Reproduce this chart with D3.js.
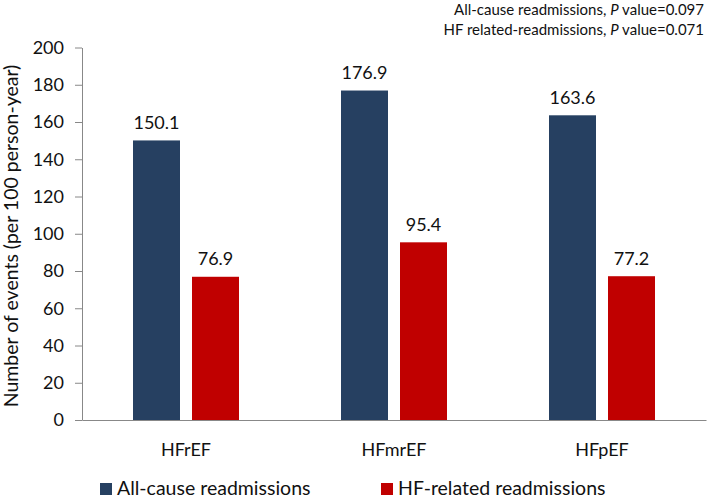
<!DOCTYPE html>
<html><head><meta charset="utf-8">
<script src="https://cdn.jsdelivr.net/npm/d3@7"></script>
<style>
html,body{margin:0;padding:0;background:#fff;}
svg{display:block;font-family:Lato,"Open Sans",sans-serif;}
</style></head>
<body><svg id="c" width="709" height="499"></svg>
<script>
const categories = ["HFrEF","HFmrEF","HFpEF"];
const seriesNames = ["All-cause readmissions","HF-related readmissions"];
const allCause = [150.1,176.9,163.6];
const hfRelated = [76.9,95.4,77.2];
const yTicks = [0,20,40,60,80,100,120,140,160,180,200];
const notes = [["All-cause readmissions, ","P"," value=0.097"],["HF related-readmissions, ","P"," value=0.071"]];
const colors = ["#264061","#C00000"];

const svg = d3.select("#c");
const x0 = d3.scaleBand().domain(categories).range([82,706]).padding(0);
const x1 = d3.scaleBand().domain(seriesNames).range([51,157]).paddingInner(0.2034).paddingOuter(0);
const y = d3.scaleLinear().domain([0,200]).range([420,47.5]);

const series = [allCause, hfRelated];
const data = [];
categories.forEach((c,i)=>series.forEach((s,j)=>data.push({c, s:seriesNames[j], v:s[i], j})));

// y axis
const ya = svg.append("g").attr("transform","translate(82,0)")
  .call(d3.axisLeft(y).tickValues(yTicks).tickSize(7).tickSizeOuter(0).tickPadding(11));
ya.select(".domain").attr("stroke","#888");
ya.selectAll(".tick line").attr("stroke","#888");
ya.selectAll(".tick text").attr("font-size","18px").attr("fill","#111").attr("font-family","Lato");

// x axis
const xa = svg.append("g").attr("transform","translate(0,420)")
  .call(d3.axisBottom(x0).tickSize(0).tickSizeOuter(0).tickPadding(23));
xa.select(".domain").attr("stroke","#888");
xa.selectAll(".tick text").attr("font-size","18px").attr("fill","#111").attr("font-family","Lato");

// bars
svg.append("g").selectAll("rect").data(data).join("rect")
  .attr("x",d=>x0(d.c)+x1(d.s)).attr("width",x1.bandwidth())
  .attr("y",d=>y(d.v)).attr("height",d=>y(0)-y(d.v))
  .attr("fill",d=>colors[d.j]);

// value labels
svg.append("g").selectAll("text").data(data).join("text")
  .attr("x",d=>x0(d.c)+x1(d.s)+x1.bandwidth()/2).attr("y",d=>y(d.v)-11.5)
  .attr("text-anchor","middle").attr("font-size","18px").attr("fill","#111")
  .text(d=>d.v.toFixed(1));

// y title
svg.append("text").attr("transform","translate(18,236) rotate(-90)")
  .attr("text-anchor","middle").attr("font-size","19.5px").attr("fill","#111")
  .text("Number of events (per 100 person-year)");

// legend
const lx = [100,381];
seriesNames.forEach((n,j)=>{
  svg.append("rect").attr("x",lx[j]).attr("y",483).attr("width",12).attr("height",12).attr("fill",colors[j]);
  svg.append("text").attr("x",lx[j]+17).attr("y",495).attr("font-size","19.5px").attr("fill","#111").text(n);
});

// notes
notes.forEach((parts,i)=>{
  const t = svg.append("text").attr("x",704).attr("y",15+i*20).attr("text-anchor","end")
    .attr("font-size","15px").attr("fill","#111");
  t.append("tspan").text(parts[0]);
  t.append("tspan").attr("font-style","italic").text(parts[1]);
  t.append("tspan").text(parts[2]);
});
</script></body></html>
